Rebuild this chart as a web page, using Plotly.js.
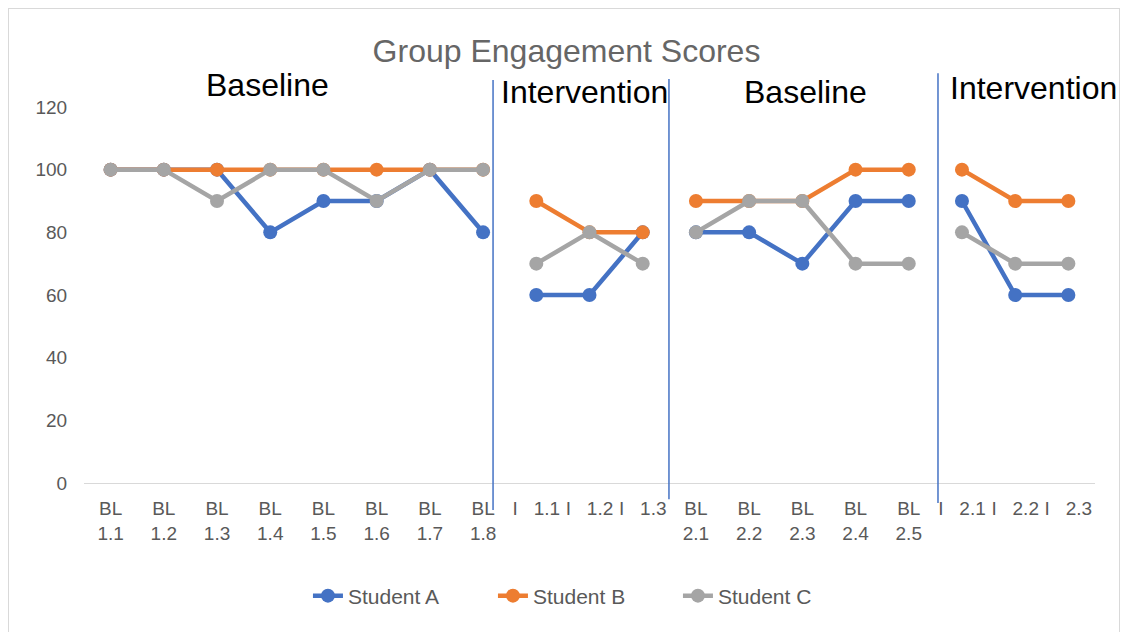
<!DOCTYPE html>
<html>
<head>
<meta charset="utf-8">
<script src="https://cdn.plot.ly/plotly-3.0.1.min.js"></script>
<style>
  html, body { margin: 0; padding: 0; background: #ffffff; }
  #chart { position: absolute; left: 0; top: 0; width: 1133px; height: 632px; }
  #frame { position: absolute; left: 8px; top: 8px; width: 1110px; height: 640px; border: 1px solid #d9d9d9; pointer-events: none; }
</style>
</head>
<body>
<div id="chart"></div>
<div id="frame"></div>
<script>
// ---- data ----
const categories = [
  "BL<br>1.1", "BL<br>1.2", "BL<br>1.3", "BL<br>1.4", "BL<br>1.5", "BL<br>1.6", "BL<br>1.7", "BL<br>1.8",
  "I\u00a0\u00a0\u00a01.1", "I\u00a0\u00a0\u00a01.2", "I\u00a0\u00a0\u00a01.3",
  "BL<br>2.1", "BL<br>2.2", "BL<br>2.3", "BL<br>2.4", "BL<br>2.5",
  "I\u00a0\u00a0\u00a02.1", "I\u00a0\u00a0\u00a02.2", "I\u00a0\u00a0\u00a02.3"
];
const studentA = [100, 100, 100, 80, 90, 90, 100, 80,   60, 60, 80,   80, 80, 70, 90, 90,   90, 60, 60];
const studentB = [100, 100, 100, 100, 100, 100, 100, 100, 90, 80, 80,  90, 90, 90, 100, 100, 100, 90, 90];
const studentC = [100, 100, 90, 100, 100, 90, 100, 100,  70, 80, 70,   80, 90, 90, 70, 70,   80, 70, 70];
const phaseBounds = [0, 8, 11, 16, 19];          // phase start indices (lines break between phases)
const phaseLabels = ["Baseline", "Intervention", "Baseline", "Intervention"];
const seriesNames = ["Student A", "Student B", "Student C"];
const seriesColors = ["#4472C4", "#ED7D31", "#A5A5A5"];
const seriesValues = [studentA, studentB, studentC];
const yTicks = [0, 20, 40, 60, 80, 100, 120];

// ---- traces: one per student per phase so lines break between phases ----
const traces = [];
seriesValues.forEach((vals, s) => {
  for (let p = 0; p < phaseBounds.length - 1; p++) {
    const a = phaseBounds[p], b = phaseBounds[p + 1];
    traces.push({
      type: "scatter",
      mode: "lines+markers",
      x: categories.slice(a, b),
      y: vals.slice(a, b),
      name: seriesNames[s],
      legendgroup: seriesNames[s],
      showlegend: p === 0,
      line: { color: seriesColors[s], width: 4.5 },
      marker: { color: seriesColors[s], size: 14 },
      hoverinfo: "x+y+name"
    });
  }
});

const textFont = "Liberation Sans, Arial, sans-serif";
const grey = "#595959";

// phase divider lines (paper coordinates)
const dividers = [
  { x: 0.4046, y0: -0.072, y1: 1.072 },
  { x: 0.5786, y0: -0.043, y1: 1.0745 },
  { x: 0.8447, y0: -0.053, y1: 1.090 }
];
const shapes = dividers.map(d => ({
  type: "line", xref: "paper", yref: "paper",
  x0: d.x, x1: d.x, y0: d.y0, y1: d.y1,
  line: { color: "#4472C4", width: 1.5 }
}));

// phase label annotations
const phaseAnnPos = [ {x: 2.95, y: 1.0585}, {x: 8.9, y: 1.040}, {x: 13.05, y: 1.040}, {x: 17.35, y: 1.0505} ];
const annotations = phaseLabels.map((t, i) => ({
  text: t, xref: "x", yref: "paper", x: phaseAnnPos[i].x, y: phaseAnnPos[i].y,
  showarrow: false, xanchor: "center", yanchor: "middle",
  font: { family: textFont, size: 32, color: "#000000" }
}));

const layout = {
  width: 1133, height: 632,
  margin: { l: 84, r: 38, t: 107, b: 149, autoexpand: false },
  paper_bgcolor: "#ffffff", plot_bgcolor: "#ffffff",
  title: {
    text: "Group Engagement Scores",
    font: { family: textFont, size: 32, color: "#666666" },
    x: 0.5, xanchor: "center", xref: "container",
    y: 1 - 51 / 632, yanchor: "middle", yref: "container"
  },
  xaxis: {
    type: "category",
    categoryorder: "array", categoryarray: categories,
    range: [-0.5, categories.length - 0.5],
    showgrid: false, zeroline: false,
    showline: true, linecolor: "#d9d9d9", linewidth: 1,
    ticks: "outside", ticklen: 8, tickcolor: "rgba(0,0,0,0)",
    tickangle: 0,
    tickfont: { family: textFont, size: 19, color: grey },
    fixedrange: true
  },
  yaxis: {
    range: [0, 120],
    tickvals: yTicks,
    showgrid: false, zeroline: false, showline: false,
    ticks: "outside", ticklen: 12, tickcolor: "rgba(0,0,0,0)",
    tickfont: { family: textFont, size: 19, color: grey },
    fixedrange: true
  },
  showlegend: true,
  legend: {
    orientation: "h",
    x: 0.496, xanchor: "center",
    y: (483 - 596) / 376, yanchor: "middle",
    font: { family: textFont, size: 21, color: grey },
    entrywidth: 140,
    traceorder: "normal"
  },
  shapes: shapes,
  annotations: annotations
};

Plotly.newPlot("chart", traces, layout, { displayModeBar: false, staticPlot: true });
</script>
</body>
</html>
